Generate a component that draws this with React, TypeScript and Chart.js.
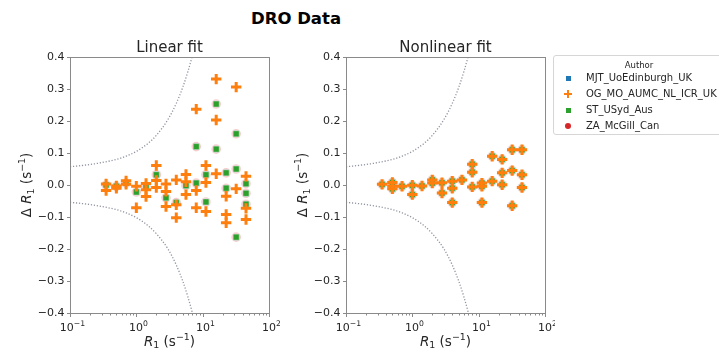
import React, { useEffect, useRef } from "react";
import { Chart, registerables } from "chart.js";

Chart.register(...registerables);

const FONT = "'DejaVu Sans', 'Liberation Sans', sans-serif";

// ---- labels ----
const MAIN_TITLE = "DRO Data";
const LEGEND_TITLE = "Author";
const SERIES_NAMES = ["MJT_UoEdinburgh_UK", "OG_MO_AUMC_NL_ICR_UK", "ST_USyd_Aus", "ZA_McGill_Can"];
const SERIES_COLORS = ["#1f77b4", "#ff7f0e", "#2ca02c", "#d62728"];
const PANEL_TITLES = ["Linear fit", "Nonlinear fit"];

// ---- ticks ----
const Y_TICKS = [0.4, 0.3, 0.2, 0.1, 0, -0.1, -0.2, -0.3, -0.4];
const X_TICKS = [0.1, 1, 10, 100];
const X_TICK_EXPONENTS = ["\u22121", "0", "1", "2"];
const X_MINOR_MULTIPLIERS = [2, 3, 4, 5, 6, 7, 8, 9];

// ---- dotted tolerance curves ----
const GUIDE_X = [0.1, 0.2, 0.3, 0.5, 0.7, 1.0, 1.5, 2.0, 3.0, 4.0, 5.0, 6.0, 7.0, 8.0];
const GUIDE_UPPER = [0.057, 0.064, 0.07, 0.08, 0.09, 0.105, 0.13, 0.155, 0.205, 0.255, 0.305, 0.355, 0.405, 0.455];
const GUIDE_LOWER = [-0.054, -0.061, -0.067, -0.077, -0.087, -0.102, -0.127, -0.152, -0.2, -0.25, -0.3, -0.35, -0.4, -0.45];

// ---- Linear fit panel ----
const LIN_OG_R1 = [0.35, 0.35, 0.5, 0.5, 0.7, 0.7, 1.0, 1.0, 1.4, 1.4, 1.4, 2.0, 2.0, 2.0, 2.8, 2.8, 2.8, 4.0, 4.0, 4.0, 5.6, 5.6, 5.6, 8.0, 8.0, 8.0, 11.2, 11.2, 11.2, 16, 16, 16, 22.6, 22.6, 22.6, 32, 32, 45, 45, 45];
const LIN_OG_DR1 = [0.003, -0.017, -0.003, -0.01, 0.013, 0.002, -0.004, -0.071, 0.005, -0.015, -0.036, 0.061, 0.014, -0.008, 0.003, -0.02, -0.067, 0.016, -0.062, -0.102, 0.033, 0.01, -0.03, 0.237, -0.017, -0.071, 0.061, 0.008, -0.083, 0.331, 0.203, 0.035, -0.035, -0.092, -0.118, 0.306, -0.012, 0.027, -0.073, -0.108];

const LIN_ST_R1 = [0.35, 0.5, 0.7, 1.0, 1.4, 2.0, 2.8, 4.0, 5.6, 8.0, 8.0, 11.2, 11.2, 16, 16, 22.6, 22.6, 32, 32, 32, 45, 45, 45];
const LIN_ST_DR1 = [0.0, -0.004, 0.006, -0.022, -0.004, 0.032, -0.04, -0.055, -0.002, 0.12, 0.006, 0.032, -0.053, 0.253, 0.112, 0.038, -0.01, 0.16, 0.05, -0.163, 0.004, -0.026, -0.06];

// MJT and ZA coincide with ST in the linear panel
const LIN_MJT_R1 = LIN_ST_R1;
const LIN_MJT_DR1 = LIN_ST_DR1;
const LIN_ZA_R1 = LIN_ST_R1;
const LIN_ZA_DR1 = LIN_ST_DR1;

// ---- Nonlinear fit panel ----
const NL_OG_R1 = [0.35, 0.5, 0.5, 0.5, 0.7, 1.0, 1.0, 1.4, 2.0, 2.0, 2.8, 2.8, 4.0, 4.0, 4.0, 5.6, 8.0, 8.0, 8.0, 11.2, 11.2, 11.2, 16, 16, 22.6, 22.6, 22.6, 32, 32, 32, 45, 45, 45];
const NL_OG_DR1 = [0.002, 0.008, -0.003, -0.012, -0.004, -0.001, -0.03, -0.003, 0.016, 0.006, 0.007, -0.025, 0.012, -0.01, -0.055, 0.016, 0.065, 0.04, -0.006, 0.006, -0.004, -0.055, 0.09, 0.012, 0.08, 0.038, 0.001, 0.11, 0.045, -0.065, 0.11, 0.032, -0.008];

// the other groups sit underneath the same points in the nonlinear panel
const NL_MJT_R1 = NL_OG_R1;
const NL_MJT_DR1 = NL_OG_DR1;
const NL_ST_R1 = NL_OG_R1;
const NL_ST_DR1 = NL_OG_DR1;
const NL_ZA_R1 = NL_OG_R1;
const NL_ZA_DR1 = NL_OG_DR1;

const FRAME = "#8a8a8a";
const TEXT = "#262626";

const pts = (xs: number[], ys: number[]) => xs.map((x, i) => ({ x, y: ys[i] }));

type Part = { t: string; sub?: boolean; sup?: boolean; italic?: boolean };

function drawRich(ctx: CanvasRenderingContext2D, parts: Part[], x: number, y: number, size: number, align: "center" | "left" | "right") {
  const small = size * 0.7;
  const fontFor = (p: Part) => `${p.italic ? "italic " : ""}${p.sub || p.sup ? small : size}px ${FONT}`;
  let total = 0;
  parts.forEach((p) => {
    ctx.font = fontFor(p);
    total += ctx.measureText(p.t).width;
  });
  let cx = align === "center" ? x - total / 2 : align === "right" ? x - total : x;
  ctx.textAlign = "left";
  ctx.textBaseline = "alphabetic";
  parts.forEach((p) => {
    ctx.font = fontFor(p);
    const dy = p.sub ? size * 0.22 : p.sup ? -size * 0.4 : 0;
    ctx.fillText(p.t, cx, y + dy);
    cx += ctx.measureText(p.t).width;
  });
}

const AXIS_LABEL: Part[] = [{ t: "R", italic: true }, { t: "1", sub: true }, { t: " (s" }, { t: "\u22121", sup: true }, { t: ")" }];
const Y_AXIS_LABEL: Part[] = [{ t: "\u0394 " }, ...AXIS_LABEL];

const axesPlugin = {
  id: "mplAxes",
  afterDraw(chart: any, _args: any, opts: any) {
    const { ctx, chartArea: a, scales } = chart;
    const xs = scales.x;
    const ys = scales.y;
    ctx.save();
    ctx.strokeStyle = FRAME;
    ctx.lineWidth = 1;
    const L = Math.round(a.left) + 0.5;
    const T = Math.round(a.top) + 0.5;
    const R = Math.round(a.right) + 0.5;
    const B = Math.round(a.bottom) + 0.5;
    ctx.strokeRect(L, T, R - L, B - T);

    ctx.fillStyle = TEXT;
    Y_TICKS.forEach((v) => {
      const py = Math.round(ys.getPixelForValue(v)) + 0.5;
      ctx.beginPath();
      ctx.moveTo(L - 3.5, py);
      ctx.lineTo(L, py);
      ctx.stroke();
      ctx.font = `11px ${FONT}`;
      ctx.textAlign = "right";
      ctx.textBaseline = "middle";
      const s = v.toFixed(1).replace("-", "\u2212");
      ctx.fillText(s, L - 6, py);
    });

    X_TICKS.forEach((v, i) => {
      const px = Math.round(xs.getPixelForValue(v)) + 0.5;
      ctx.beginPath();
      ctx.moveTo(px, B);
      ctx.lineTo(px, B + 3.5);
      ctx.stroke();
      drawRich(ctx, [{ t: "10" }, { t: X_TICK_EXPONENTS[i], sup: true }], px + 2, B + 17, 11, "center");
    });
    for (let d = 0; d < X_TICKS.length - 1; d++) {
      X_MINOR_MULTIPLIERS.forEach((m) => {
        const px = Math.round(xs.getPixelForValue(X_TICKS[d] * m)) + 0.5;
        ctx.beginPath();
        ctx.moveTo(px, B);
        ctx.lineTo(px, B + 2);
        ctx.stroke();
      });
    }

    ctx.fillStyle = TEXT;
    const cx = (a.left + a.right) / 2;
    ctx.font = `15px ${FONT}`;
    ctx.textAlign = "center";
    ctx.textBaseline = "alphabetic";
    ctx.fillText(opts.title, cx, a.top - 5);
    drawRich(ctx, AXIS_LABEL, cx, B + 32, 13.5, "center");

    ctx.save();
    ctx.translate(a.left - 44, (a.top + a.bottom) / 2);
    ctx.rotate(-Math.PI / 2);
    drawRich(ctx, Y_AXIS_LABEL, 0, 13.5 * 0.35, 13.5, "center");
    ctx.restore();
    ctx.restore();
  },
};

function makeDatasets(
  og: [number[], number[]],
  mjt: [number[], number[]],
  st: [number[], number[]],
  za: [number[], number[]]
) {
  const guide = (ys: number[]) => ({
    data: pts(GUIDE_X, ys),
    showLine: true,
    pointRadius: 0,
    borderColor: "#8f94a0",
    borderWidth: 1.3,
    borderDash: [1.2, 1.8],
    cubicInterpolationMode: "monotone",
    fill: false,
    order: 10,
  });
  return [
    {
      label: SERIES_NAMES[1],
      data: pts(og[0], og[1]),
      pointStyle: "cross",
      pointRadius: 5.2,
      borderColor: SERIES_COLORS[1],
      backgroundColor: SERIES_COLORS[1],
      pointBorderWidth: 3,
      order: 0,
    },
    {
      label: SERIES_NAMES[2],
      data: pts(st[0], st[1]),
      pointStyle: "rect",
      pointRadius: 4.2,
      backgroundColor: SERIES_COLORS[2],
      borderColor: "rgba(255,255,255,0.6)",
      pointBorderWidth: 0.6,
      order: 1,
    },
    {
      label: SERIES_NAMES[0],
      data: pts(mjt[0], mjt[1]),
      pointStyle: "rect",
      pointRadius: 4.6,
      backgroundColor: "rgba(31,119,180,0.4)",
      borderColor: "rgba(255,255,255,0.6)",
      pointBorderWidth: 0.6,
      order: 2,
    },
    {
      label: SERIES_NAMES[3],
      data: pts(za[0], za[1]),
      pointStyle: "circle",
      pointRadius: 4.8,
      backgroundColor: "rgba(214,39,40,0.3)",
      borderColor: "rgba(255,255,255,0.6)",
      pointBorderWidth: 0.6,
      order: 3,
    },
    guide(GUIDE_UPPER),
    guide(GUIDE_LOWER),
  ];
}

function makeChart(canvas: HTMLCanvasElement, datasets: any[], title: string, padLeft: number, padRight: number) {
  return new Chart(canvas, {
    type: "scatter",
    data: { datasets },
    options: {
      responsive: false,
      animation: false,
      events: [],
      layout: { padding: { left: padLeft, right: padRight, top: 57, bottom: 41 } },
      scales: {
        x: { type: "logarithmic", min: 0.1, max: 100, display: false },
        y: { type: "linear", min: -0.4, max: 0.4, display: false },
      },
      plugins: {
        legend: { display: false },
        tooltip: { enabled: false },
        mplAxes: { title },
      } as any,
    },
    plugins: [axesPlugin as any],
  } as any);
}

const LEGEND_ROWS_Y = [23, 39, 55, 71];

function LegendMarker({ i }: { i: number }) {
  const c = SERIES_COLORS[i];
  if (i === 1) {
    return (
      <div style={{ position: "absolute", left: -4, top: -4, width: 8, height: 8 }}>
        <div style={{ position: "absolute", left: 0, top: 3, width: 8, height: 2.4, background: c }} />
        <div style={{ position: "absolute", left: 3, top: 0, width: 2.4, height: 8, background: c }} />
      </div>
    );
  }
  if (i === 3) {
    return <div style={{ position: "absolute", left: -3, top: -3, width: 6, height: 6, borderRadius: 3, background: c }} />;
  }
  return <div style={{ position: "absolute", left: -2.5, top: -2.5, width: 5, height: 5, background: c }} />;
}

export default function App() {
  const r1 = useRef<HTMLCanvasElement>(null);
  const r2 = useRef<HTMLCanvasElement>(null);

  useEffect(() => {
    const c1 = makeChart(
      r1.current!,
      makeDatasets([LIN_OG_R1, LIN_OG_DR1], [LIN_MJT_R1, LIN_MJT_DR1], [LIN_ST_R1, LIN_ST_DR1], [LIN_ZA_R1, LIN_ZA_DR1]),
      PANEL_TITLES[0],
      70,
      11
    );
    const c2 = makeChart(
      r2.current!,
      makeDatasets([NL_OG_R1, NL_OG_DR1], [NL_MJT_R1, NL_MJT_DR1], [NL_ST_R1, NL_ST_DR1], [NL_ZA_R1, NL_ZA_DR1]),
      PANEL_TITLES[1],
      66,
      10
    );
    return () => {
      c1.destroy();
      c2.destroy();
    };
  }, []);

  return (
    <div
      style={{
        position: "absolute",
        left: 0,
        top: 0,
        width: 719,
        height: 354,
        background: "#fff",
        overflow: "hidden",
        fontFamily: FONT,
        color: TEXT,
      }}
    >
      <div
        style={{
          position: "absolute",
          left: 196,
          top: 11,
          width: 200,
          textAlign: "center",
          fontSize: "16.5px",
          lineHeight: "16.5px",
          fontWeight: "bold",
          color: "#000",
          whiteSpace: "nowrap",
        }}
      >
        {MAIN_TITLE}
      </div>
      <canvas ref={r1} width={280} height={354} style={{ position: "absolute", left: 0, top: 0 }} />
      <canvas ref={r2} width={275} height={354} style={{ position: "absolute", left: 280, top: 0 }} />
      <div
        style={{
          position: "absolute",
          left: 553,
          top: 55,
          width: 172,
          height: 80,
          border: "1px solid #d6d6d6",
          borderRadius: 3,
          background: "#fff",
          boxSizing: "border-box",
        }}
      >
        <div
          style={{
            position: "absolute",
            left: 0,
            width: 170,
            top: 4,
            textAlign: "center",
            fontSize: "8.5px",
            lineHeight: "10px",
          }}
        >
          {LEGEND_TITLE}
        </div>
        {SERIES_NAMES.map((name, i) => (
          <div key={name} style={{ position: "absolute", left: 0, top: LEGEND_ROWS_Y[i] - 1, width: 170, height: 0 }}>
            <div style={{ position: "absolute", left: 14, top: 0 }}>
              <LegendMarker i={i} />
            </div>
            <div
              style={{
                position: "absolute",
                left: 32,
                top: -6,
                fontSize: "10px",
                lineHeight: "12px",
                whiteSpace: "nowrap",
              }}
            >
              {name}
            </div>
          </div>
        ))}
      </div>
    </div>
  );
}
